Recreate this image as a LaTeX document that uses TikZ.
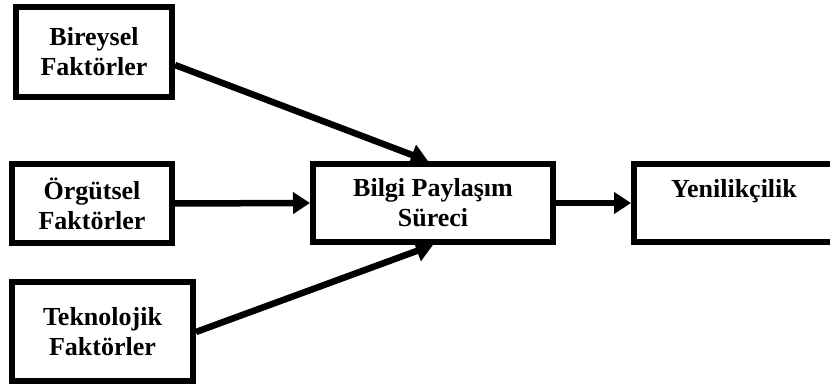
\documentclass[tikz,border=0pt]{standalone}
\usepackage{fontspec}
\setmainfont{Liberation Serif}
\usetikzlibrary{arrows.meta,calc}
\begin{document}
\begin{tikzpicture}[x=1pt,y=1pt,
  box/.style={draw=black,line width=6pt,fill=white,rectangle,align=center,inner sep=0pt,
    font=\fontsize{26}{30}\selectfont\bfseries},
  conn/.style={line width=6.5pt,-{Triangle[length=17pt,width=21pt]}}]
\clip (0,0) rectangle (830,387);
\fill[white] (0,0) rectangle (830,387);
\node[box,minimum width=156pt,minimum height=90pt] (b1) at (94,335) {Bireysel\\Faktörler};
\node[box,minimum width=160pt,minimum height=79pt] (b2) at (92,183.5) {Örgütsel\\Faktörler};
\node[box,minimum width=181pt,minimum height=99pt] (b3) at (102.5,55) {Teknolojik\\Faktörler};
\node[box,minimum width=240pt,minimum height=78pt] (b4) at (433,184) {Bilgi Paylaşım\\Süreci};
\node[box,minimum width=200pt,minimum height=78pt] (b5) at (734,184) {Yenilikçilik\\\mbox{}};
\draw[conn] ($(b1.east)+(0,-13)$) -- ($(b4.north)+(-5,0)$);
\draw[conn] (b2.east) -- (b4.west);
\draw[conn] (b3.east) -- (b4.south);
\draw[conn] (b4.east) -- (b5.west);
\end{tikzpicture}
\end{document}
